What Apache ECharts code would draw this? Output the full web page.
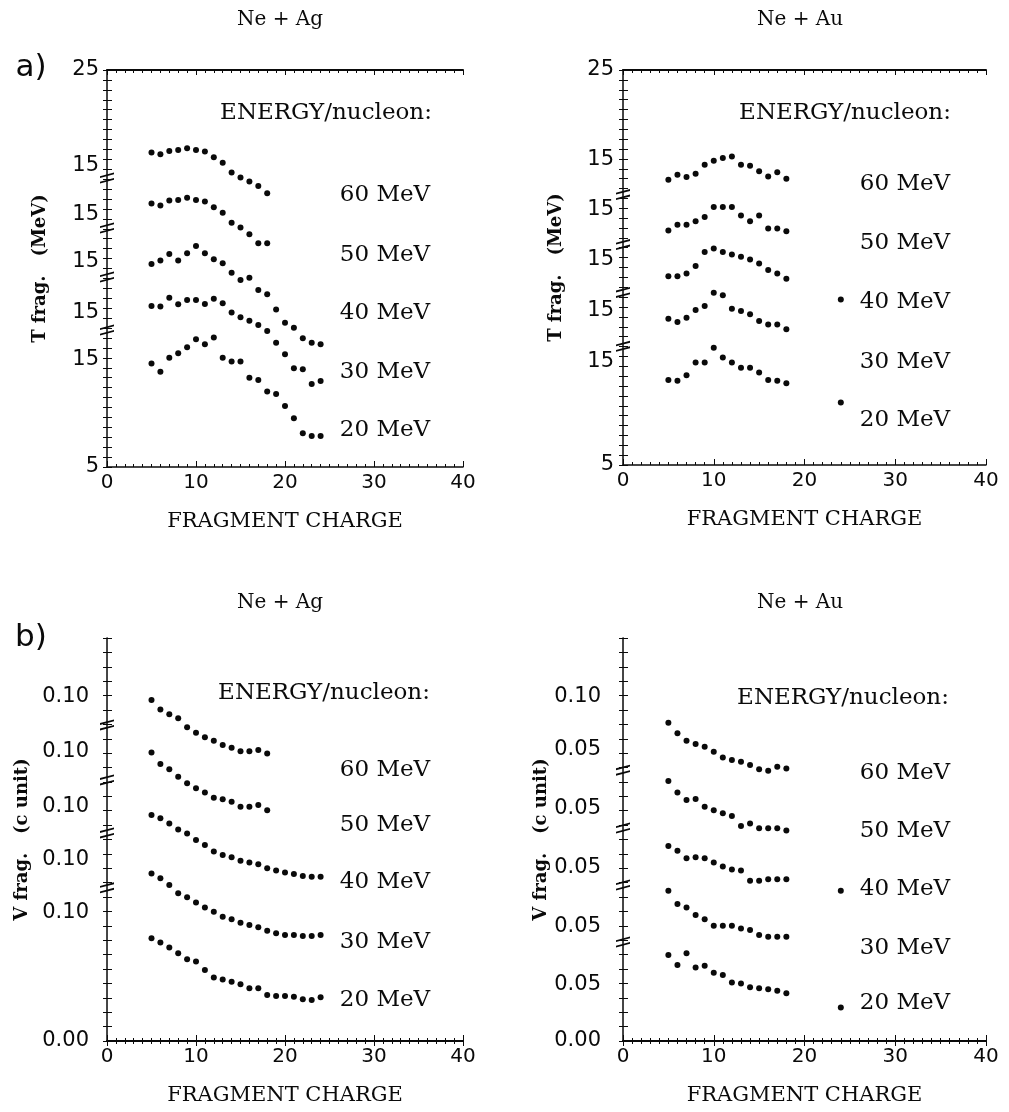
<!DOCTYPE html>
<html>
<head>
<meta charset="utf-8">
<script src="https://cdn.jsdelivr.net/npm/echarts@6/dist/echarts.min.js"></script>
<style>
html, body { margin: 0; background: #fff; }
#chart { width: 1009px; height: 1112px; }
</style>
</head>
<body>
<div id="chart"></div>
<script>
// fragment charges
var zShort = [5, 6, 7, 8, 9, 10, 11, 12, 13, 14, 15, 16, 17, 18];
var zLong = [5, 6, 7, 8, 9, 10, 11, 12, 13, 14, 15, 16, 17, 18, 19, 20, 21, 22, 23, 24];
var energies = ['60 MeV', '50 MeV', '40 MeV', '30 MeV', '20 MeV'];

// a) temperature, Ne + Ag (stacked, offset scale)
var tAg60 = [20.85, 20.75, 20.92, 20.97, 21.06, 20.97, 20.89, 20.60, 20.33, 19.83, 19.59, 19.38, 19.16, 18.79];
var tAg50 = [18.28, 18.18, 18.42, 18.45, 18.57, 18.45, 18.37, 18.08, 17.81, 17.31, 17.06, 16.72, 16.27, 16.27];
var tAg40 = [15.23, 15.40, 15.73, 15.40, 15.77, 16.13, 15.77, 15.46, 15.26, 14.79, 14.42, 14.54, 13.92, 13.70, 12.94, 12.27, 12.02, 11.48, 11.26, 11.18];
var tAg30 = [13.11, 13.08, 13.53, 13.20, 13.41, 13.41, 13.21, 13.48, 13.25, 12.78, 12.54, 12.37, 12.15, 11.85, 11.26, 10.68, 9.97, 9.92, 9.18, 9.33];
var tAg20 = [10.22, 9.80, 10.51, 10.73, 11.03, 11.43, 11.18, 11.52, 10.51, 10.31, 10.31, 9.50, 9.38, 8.80, 8.68, 8.07, 7.45, 6.70, 6.56, 6.56];

// a) temperature, Ne + Au
var tAu60 = [19.44, 19.70, 19.58, 19.75, 20.20, 20.40, 20.54, 20.62, 20.20, 20.15, 19.87, 19.61, 19.82, 19.49];
var tAu50 = [16.87, 17.17, 17.17, 17.34, 17.56, 18.06, 18.06, 18.06, 17.63, 17.34, 17.63, 16.97, 16.97, 16.84];
var tAu40 = [14.56, 14.56, 14.70, 15.07, 15.78, 15.96, 15.78, 15.66, 15.54, 15.40, 15.20, 14.87, 14.70, 14.43];
var tAu30 = [12.41, 12.24, 12.46, 12.85, 13.05, 13.72, 13.60, 12.91, 12.80, 12.63, 12.29, 12.12, 12.12, 11.87];
var tAu20 = [9.31, 9.26, 9.55, 10.19, 10.19, 10.94, 10.44, 10.19, 9.93, 9.93, 9.68, 9.31, 9.26, 9.14];
var tAuLoneZ = [24, 24];
var tAuLone = [13.38, 8.17];

// b) velocity, Ne + Ag
var vAg60 = [0.1185, 0.1152, 0.1135, 0.1121, 0.1090, 0.1071, 0.1055, 0.1043, 0.1028, 0.1019, 0.1007, 0.1007, 0.1011, 0.0999];
var vAg50 = [0.1002, 0.0962, 0.0944, 0.0918, 0.0895, 0.0878, 0.0863, 0.0845, 0.0840, 0.0831, 0.0814, 0.0814, 0.0820, 0.0802];
var vAg40 = [0.0785, 0.0774, 0.0756, 0.0735, 0.0721, 0.0698, 0.0681, 0.0658, 0.0646, 0.0638, 0.0626, 0.0620, 0.0614, 0.0600, 0.0592, 0.0585, 0.0580, 0.0573, 0.0571, 0.0571];
var vAg30 = [0.0582, 0.0565, 0.0542, 0.0513, 0.0499, 0.0481, 0.0464, 0.0449, 0.0432, 0.0423, 0.0411, 0.0403, 0.0395, 0.0383, 0.0374, 0.0368, 0.0368, 0.0365, 0.0365, 0.0368];
var vAg20 = [0.0357, 0.0342, 0.0325, 0.0305, 0.0284, 0.0276, 0.0247, 0.0221, 0.0214, 0.0206, 0.0197, 0.0183, 0.0183, 0.0160, 0.0156, 0.0156, 0.0154, 0.0145, 0.0142, 0.0152];

// b) velocity, Ne + Au
var vAu60 = [0.1106, 0.1069, 0.1043, 0.1032, 0.1022, 0.1005, 0.0985, 0.0976, 0.0970, 0.0959, 0.0944, 0.0939, 0.0953, 0.0947];
var vAu50 = [0.0903, 0.0863, 0.0837, 0.0841, 0.0814, 0.0802, 0.0791, 0.0782, 0.0747, 0.0756, 0.0739, 0.0739, 0.0739, 0.0731];
var vAu40 = [0.0677, 0.0661, 0.0635, 0.0638, 0.0635, 0.0620, 0.0606, 0.0596, 0.0592, 0.0557, 0.0557, 0.0562, 0.0562, 0.0562];
var vAu30 = [0.0522, 0.0476, 0.0464, 0.0438, 0.0423, 0.0400, 0.0400, 0.0400, 0.0391, 0.0386, 0.0368, 0.0362, 0.0362, 0.0362];
var vAu20 = [0.0299, 0.0264, 0.0305, 0.0255, 0.0261, 0.0237, 0.0229, 0.0203, 0.0200, 0.0187, 0.0183, 0.0180, 0.0175, 0.0166];
var vAuLoneZ = [24, 24];
var vAuLone = [0.0522, 0.0116];

// y tick labels (offset scales) and axis break marks
var tAgTickVals = [5, 10.39, 12.76, 15.33, 17.70, 20.21, 25];
var tAgTickText = ['5', '15', '15', '15', '15', '15', '25'];
var tAgBreaks = [11.90, 14.57, 17.04, 19.56];
var tAuTickVals = [5, 10.25, 12.83, 15.40, 17.93, 20.45, 25];
var tAuTickText = ['5', '15', '15', '15', '15', '15', '25'];
var tAuBreaks = [11.01, 13.74, 16.16, 18.69];
var vAgTickVals = [0, 0.0445, 0.0629, 0.0816, 0.1004, 0.1195];
var vAgTickText = ['0.00', '0.10', '0.10', '0.10', '0.10', '0.10'];
var vAgBreaks = [0.0532, 0.0723, 0.0907, 0.1098];
var vAuTickVals = [0, 0.0195, 0.0396, 0.0601, 0.0809, 0.1011, 0.1195];
var vAuTickText = ['0.00', '0.05', '0.05', '0.05', '0.05', '0.05', '0.10'];
var vAuBreaks = [0.0344, 0.0542, 0.0740, 0.0941];

var INK = '#0a0a0a';
var serif = '"DejaVu Serif"';
var sans = '"DejaVu Sans"';
var breakPath = 'path://M0,4 L14,0 L14,2 L0,6 Z M0,10 L14,6 L14,8 L0,12 Z';

var panels = [
  { box: { left: 107, top: 70, width: 356, height: 397 }, yMin: 5, yMax: 25, yStep: 0.5,
    labelMargin: 8, nameGap: 58,
    vals: tAgTickVals, text: tAgTickText, breaks: tAgBreaks, yName: 'T frag.   (MeV)',
    ys: [tAg60, tAg50, tAg40, tAg30, tAg20], xs: [zShort, zShort, zLong, zLong, zLong], loneZ: [], lone: [] },
  { box: { left: 623, top: 70, width: 363, height: 395 }, yMin: 5, yMax: 25, yStep: 0.5,
    labelMargin: 9, nameGap: 58,
    vals: tAuTickVals, text: tAuTickText, breaks: tAuBreaks, yName: 'T frag.   (MeV)',
    ys: [tAu60, tAu50, tAu40, tAu30, tAu20], xs: [zShort, zShort, zShort, zShort, zShort], loneZ: tAuLoneZ, lone: tAuLone },
  { box: { left: 107, top: 638, width: 356, height: 403 }, yMin: 0, yMax: 0.14, yStep: 0.005,
    labelMargin: 18, nameGap: 76,
    vals: vAgTickVals, text: vAgTickText, breaks: vAgBreaks, yName: 'V frag.   (c unit)',
    ys: [vAg60, vAg50, vAg40, vAg30, vAg20], xs: [zShort, zShort, zLong, zLong, zLong], loneZ: [], lone: [] },
  { box: { left: 623, top: 638, width: 363, height: 403 }, yMin: 0, yMax: 0.14, yStep: 0.005,
    labelMargin: 22, nameGap: 68,
    vals: vAuTickVals, text: vAuTickText, breaks: vAuBreaks, yName: 'V frag.   (c unit)',
    ys: [vAu60, vAu50, vAu40, vAu30, vAu20], xs: [zShort, zShort, zShort, zShort, zShort], loneZ: vAuLoneZ, lone: vAuLone }
];

var grids = [], xAxes = [], yAxes = [], series = [];

panels.forEach(function (p, i) {
  grids.push(p.box);
  // bottom axis with labels
  xAxes.push({
    gridIndex: i, type: 'value', min: 0, max: 40, interval: 10, position: 'bottom',
    name: 'FRAGMENT CHARGE', nameLocation: 'middle', nameGap: 44,
    nameTextStyle: { fontFamily: serif, fontSize: 21, color: INK },
    axisLine: { lineStyle: { color: INK, width: 1.5 } },
    axisTick: { inside: true, length: 6, lineStyle: { color: INK } },
    minorTick: { show: true, splitNumber: 10, length: 3, lineStyle: { color: INK } },
    axisLabel: { fontFamily: sans, fontSize: 20, color: INK, margin: 6 },
    splitLine: { show: false }
  });
  // top frame
  xAxes.push({
    gridIndex: i, type: 'value', min: 0, max: 40, interval: 10, position: 'top',
    axisLine: { lineStyle: { color: INK, width: 2 } },
    axisTick: { inside: true, length: 5, lineStyle: { color: INK } },
    minorTick: { show: true, splitNumber: 10, length: 3, lineStyle: { color: INK } },
    axisLabel: { show: false }, splitLine: { show: false }
  });
  var vals = p.vals, text = p.text;
  yAxes.push({
    gridIndex: i, type: 'value', min: p.yMin, max: p.yMax, interval: p.yStep, position: 'left',
    name: p.yName, nameLocation: 'middle', nameGap: p.nameGap,
    nameTextStyle: { fontFamily: serif, fontSize: 18, fontWeight: 'bold', color: INK },
    axisLine: { lineStyle: { color: INK, width: 1.5 } },
    axisTick: { inside: true, length: 5, lineStyle: { color: INK } },
    axisLabel: {
      customValues: vals, fontFamily: sans, fontSize: 21, color: INK, margin: p.labelMargin,
      formatter: function (v) {
        for (var k = 0; k < vals.length; k++) {
          if (Math.abs(vals[k] - v) < 1e-6) return text[k];
        }
        return '';
      }
    },
    splitLine: { show: false }
  });
  // right frame
  yAxes.push({
    gridIndex: i, type: 'value', min: p.yMin, max: p.yMax, interval: p.yStep, position: 'right',
    axisLine: { lineStyle: { color: '#444', width: 1 } },
    axisTick: { inside: true, length: 4, lineStyle: { color: INK } },
    axisLabel: { show: false }, splitLine: { show: false }
  });

  p.ys.forEach(function (ys, k) {
    var xs = p.xs[k];
    series.push({
      type: 'scatter', name: energies[k], xAxisIndex: 2 * i, yAxisIndex: 2 * i,
      symbolSize: 6, itemStyle: { color: INK, opacity: 1 }, silent: true,
      data: ys.map(function (y, j) { return [xs[j], y]; })
    });
  });
  if (p.lone.length) {
    series.push({
      type: 'scatter', name: 'isolated', xAxisIndex: 2 * i, yAxisIndex: 2 * i,
      symbolSize: 6, itemStyle: { color: INK, opacity: 1 }, silent: true,
      data: p.lone.map(function (y, j) { return [p.loneZ[j], y]; })
    });
  }
  // broken-axis marks on the left axis
  series.push({
    type: 'scatter', name: 'breaks', xAxisIndex: 2 * i, yAxisIndex: 2 * i,
    symbol: breakPath, symbolSize: [14, 11], clip: false, z: 5,
    itemStyle: { color: INK, opacity: 1 }, silent: true,
    data: p.breaks.map(function (y) { return [0, y]; })
  });
});

// free text: titles, panel letters, energy labels
var txt = function (s, x, y, size, family, align) {
  return {
    type: 'text', x: x, y: y, silent: true,
    style: {
      text: s, fill: INK, font: size + 'px ' + (family || serif),
      textAlign: align || 'center', textVerticalAlign: 'middle',
      align: align || 'center', verticalAlign: 'middle'
    }
  };
};
var graphics = [
  txt('Ne + Ag', 280, 20, 20), txt('Ne + Au', 800, 20, 20),
  txt('Ne + Ag', 280, 603, 20), txt('Ne + Au', 800, 603, 20),
  txt('a)', 31, 68, 31, sans), txt('b)', 31, 638, 31, sans),
  txt('ENERGY/nucleon:', 326, 113, 23), txt('ENERGY/nucleon:', 845, 113, 23),
  txt('ENERGY/nucleon:', 324, 693, 23), txt('ENERGY/nucleon:', 843, 698, 23)
];
var labelY = [
  [195, 255, 313, 372, 430],
  [184, 243, 302, 362, 420],
  [770, 825, 882, 942, 1000],
  [773, 831, 889, 948, 1003]
];
var labelX = [385, 905, 385, 905];
labelY.forEach(function (row, i) {
  row.forEach(function (y, k) {
    graphics.push(txt(energies[k], labelX[i], y, 23));
  });
});

var myChart = echarts.init(document.getElementById('chart'));
var option = {
  backgroundColor: '#fff',
  animation: false,
  grid: grids,
  xAxis: xAxes,
  yAxis: yAxes,
  series: series,
  graphic: graphics
};
myChart.setOption(option);
</script>
</body>
</html>
